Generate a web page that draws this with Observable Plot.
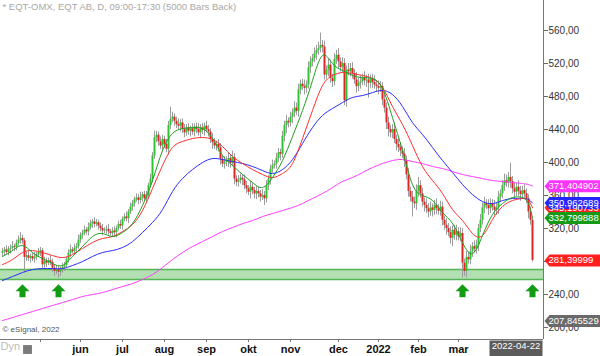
<!DOCTYPE html>
<html><head><meta charset="utf-8">
<script src="https://cdn.jsdelivr.net/npm/d3@7"></script>
<script src="https://cdn.jsdelivr.net/npm/@observablehq/plot@0.6"></script>
<style>body{margin:0;background:#fff}#chart svg{overflow:visible}</style>
</head><body><div id="chart"></div>
<script>
// ---- Daily closes (trading-day index 0..265, last = 2022-04-22) ----
const closes = [
292,294,291,295,296,298,297,302,306,308,305,285,287,284,286,283,285,288,291,293,
276,280,278,281,279,272,268,270,267,270,273,275,282,290,294,292,296,298,306,312,
314,318,316,321,326,328,325,327,323,320,317,318,319,316,314,317,315,320,325,323,
331,334,332,340,346,350,355,357,354,358,361,356,360,372,380,408,430,433,425,420,
428,422,416,445,452,455,450,446,444,448,440,436,442,438,441,437,443,440,436,442,
439,444,440,437,428,424,420,422,418,404,398,400,402,405,399,406,380,376,378,381,
379,372,368,364,370,366,362,365,362,358,360,356,372,380,392,396,398,405,412,410,
432,445,450,448,455,460,466,462,488,495,492,490,494,515,522,526,532,536,538,542,
540,506,512,518,502,498,525,530,522,515,520,475,512,510,514,508,500,492,496,498,
502,499,500,496,501,497,494,492,490,492,476,466,448,440,436,440,428,422,418,414,
410,402,385,365,358,352,350,365,372,362,352,348,344,340,345,342,348,344,341,346,
330,324,320,315,308,318,312,316,310,314,278,268,285,282,292,298,295,300,320,330,
345,350,348,344,350,346,342,345,358,362,372,378,375,382,377,368,364,370,365,361,
366,362,356,340,330,281.4
];
const firstOpen = 290;
const wickUp = [
4,3,5,3,4,6,3,4,5,7,4,3,4,5,3,4,6,3,5,4,
3,5,4,3,6,4,3,5,4,3,5,4,3,4,6,3,5,4,6,3,
4,5,3,6,4,3,5,4,3,4,5,3,4,6,3,4,5,3,4,5,
3,4,6,3,5,4,3,5,4,6,3,4,5,3,6,4,8,5,4,6,
5,4,6,5,15,6,4,5,7,4,5,6,4,5,3,6,4,5,7,4,
5,4,6,5,4,7,5,4,6,5,4,7,5,6,4,8,5,4,6,5,
4,6,5,4,7,5,4,6,5,4,7,5,6,4,5,7,4,6,5,4,
6,5,7,4,6,5,8,6,7,5,6,8,5,7,6,5,7,6,8,15,
6,7,5,8,6,5,7,6,8,5,7,6,5,8,6,7,5,9,6,7,
5,8,6,7,5,6,8,5,7,6,5,8,6,7,5,6,8,5,7,6,
5,7,6,8,5,7,6,8,10,6,7,5,8,6,7,5,6,8,5,7,
6,5,8,6,7,5,6,8,5,7,6,5,7,6,8,5,7,6,5,7,
6,8,5,7,6,5,8,6,7,5,6,8,7,6,17,6,7,5,8,6,
5,7,6,5,6,3
];
const wickDn = [
4,5,3,4,6,3,5,4,3,5,4,19,5,4,6,3,5,4,3,5,
6,4,5,3,4,5,6,4,7,5,4,5,3,4,5,3,4,6,3,4,
5,3,4,5,3,6,4,3,5,4,6,3,5,4,3,5,4,6,3,4,
5,3,4,6,3,5,4,3,5,4,6,3,5,4,3,5,4,6,5,4,
6,5,4,7,5,4,6,5,4,7,5,6,4,5,7,4,6,5,4,6,
5,7,4,6,5,8,4,6,5,7,4,6,5,8,6,4,7,5,6,4,
7,5,6,4,8,5,6,7,5,6,4,8,5,6,7,5,4,6,5,8,
5,7,10,6,5,8,6,5,7,6,5,8,6,5,7,6,5,8,6,5,
7,6,5,8,6,7,5,6,8,5,7,6,8,5,6,7,5,8,6,7,
5,6,8,18,6,7,5,6,8,5,7,6,8,9,6,7,5,8,6,7,
5,8,6,7,6,18,6,8,7,5,6,8,6,7,5,8,6,7,5,6,
7,6,8,5,7,10,6,7,5,6,18,6,8,5,6,7,5,6,8,5,
6,7,5,8,6,5,7,6,8,5,6,7,5,6,8,6,7,5,6,8,
5,7,6,8,6,2
];

// ---- Moving averages, sampled at these bar indices ----
const maIdx = [0,5,10,15,20,25,30,35,40,45,50,55,60,65,70,75,80,85,90,95,100,105,110,115,120,125,130,135,140,145,150,155,160,165,170,175,180,185,190,195,200,205,210,215,220,225,230,235,240,245,250,255,260,263,265];
const maGreen = [286.1,293.3,299.4,290.9,283.6,277.6,275.2,286.1,298.2,310.3,314.0,310.3,315.2,326.1,347.9,378.2,414.5,435.2,441.2,442.4,441.2,429.1,408.5,396.4,385.5,375.8,369.7,381.8,402.4,431.5,463.0,499.4,529.7,520.0,511.5,505.5,503.0,501.8,489.7,454.5,414.5,373.3,360.0,353.9,339.4,326.1,303.0,289.7,311.5,337.0,350.3,357.6,357.6,350.3,332.8];
const maRed = [276.4,282.4,290.9,293.3,290.9,287.3,284.8,288.5,295.8,303.0,307.9,310.3,316.4,324.9,341.8,368.5,396.4,418.2,425.5,429.1,430.3,427.9,419.4,407.3,398.8,391.5,385.5,381.8,386.7,398.8,429.1,463.0,493.3,505.5,509.1,507.9,505.5,501.8,490.9,467.9,446.1,420.6,395.2,378.2,362.4,343.0,329.7,314.0,311.5,330.9,346.7,353.9,356.4,353.9,345.19];
const maBlue = [257.0,261.8,266.7,270.3,271.5,271.5,271.5,275.2,280.0,286.1,290.9,293.3,297.0,304.2,315.2,327.3,343.0,364.8,380.6,391.5,400.0,404.8,403.6,401.2,398.8,395.2,390.3,386.7,391.5,403.6,423.0,442.4,457.0,465.5,472.7,478.8,481.2,484.8,487.3,482.4,467.9,448.5,433.9,418.2,402.4,387.9,373.3,361.2,352.7,350.3,353.9,356.4,356.4,355.2,350.96];
const maPink = [208.5,212.1,215.8,219.4,223.0,226.7,230.3,233.9,237.6,240.0,242.4,246.0,249.7,253.3,258.2,264.2,272.7,282.4,290.9,298.2,304.2,310.3,316.4,321.2,325.9,329.7,334.5,338.2,341.8,345.5,350.3,356.4,362.4,369.7,377.0,381.8,387.9,393.9,398.8,402.4,403.6,401.2,398.8,395.2,392.7,389.1,385.5,383.0,380.6,378.2,377.0,375.8,374.5,373.3,371.4];

// ---- Support band and signal arrows ----
const bandLow = 258.2, bandHigh = 270.3;
const arrowIdx = [10, 28, 230, 265];
const arrowPrice = [244, 244, 244, 244];

// ---- Axis ticks ----
const xTickIdx = [19, 39, 60, 81, 102, 123, 144, 168, 188, 208, 228, 250];
const xTickLabels = ["", "jun", "jul", "aug", "sep", "okt", "nov", "dec", "2022", "feb", "mar", ""];
const yTicks = [200, 240, 280, 320, 360, 400, 440, 480, 520, 560];
const lastDateLabel = "2022-04-22";

// ---- Right-edge value tags ----
const tagValues = [345.190733, 371.404902, 350.962689, 332.799888, 281.39999, 207.845529];
const tagTexts = ["345,190733", "371,404902", "350,962689", "332,799888", "281,39999", "207,845529"];
const tagColors = ["#ff2020", "#ff33ff", "#2424ff", "#169a16", "#ff1f1f", "#6a6a6a"];

const titleText = "* EQT-OMX, EQT AB, D, 09:00-17:30 (5000 Bars Back)";
const creditText = "\u00a9 eSignal, 2022";

// ---- build ----
const bars = closes.map((c, i) => {
  const o = i ? closes[i - 1] : firstOpen;
  return {i, o, c, h: Math.max(o, c) + wickUp[i], l: Math.min(o, c) - wickDn[i]};
});
const maSeries = (arr) => maIdx.map((x, i) => ({x, y: arr[i]}));
const tags = tagValues.map((v, i) => ({v, t: tagTexts[i], col: tagColors[i]}));
const arrows = arrowIdx.map((x, i) => ({x, y: arrowPrice[i]}));
const tickLabel = new Map(xTickIdx.map((d, i) => [d, xTickLabels[i]]));
const commaFmt = d => d.toFixed(2).replace(".", ",");

const tagSymbol = {draw(ctx) {
  ctx.moveTo(1, 0); ctx.lineTo(6, -6); ctx.lineTo(58, -6); ctx.lineTo(58, 6); ctx.lineTo(6, 6); ctx.closePath();
}};
const arrowSymbol = {draw(ctx) {
  ctx.moveTo(0, -7); ctx.lineTo(7, 0); ctx.lineTo(3, 0); ctx.lineTo(3, 6); ctx.lineTo(-3, 6); ctx.lineTo(-3, 0); ctx.lineTo(-7, 0); ctx.closePath();
}};
const boxSymbol = {draw(ctx) {
  ctx.rect(-53, -8, 53, 16);
}};

const GREEN = "#2fc42f", RED = "#e02424";

const chart = Plot.plot({
  width: 600, height: 356,
  marginLeft: 0, marginRight: 57, marginTop: 0, marginBottom: 17,
  style: {fontFamily: "'Liberation Sans', Arial, sans-serif", background: "#fff", overflow: "visible"},
  x: {domain: [-1, 270.5], axis: null},
  y: {domain: [185.5, 596.4], axis: null},
  color: {type: "identity"},
  marks: [
    Plot.rect([{lo: bandLow, hi: bandHigh}], {y1: "lo", y2: "hi", fill: "#b2e0b2"}),
    Plot.ruleY([bandLow, bandHigh], {stroke: "#55b455", strokeWidth: 1.5}),
    Plot.ruleX(bars, {x: "i", y1: "l", y2: "h", stroke: "#9c9c9c", strokeWidth: 1}),
    Plot.ruleX(bars, {x: "i", y1: "o", y2: "c", stroke: d => d.c >= d.o ? GREEN : RED, strokeWidth: 2}),
    Plot.line(maSeries(maPink), {x: "x", y: "y", stroke: "#ff3cff", strokeWidth: 1, curve: "natural"}),
    Plot.line(maSeries(maBlue), {x: "x", y: "y", stroke: "#2b2bff", strokeWidth: 1, curve: "natural"}),
    Plot.line(maSeries(maRed), {x: "x", y: "y", stroke: "#ff2e2e", strokeWidth: 1, curve: "natural"}),
    Plot.line(maSeries(maGreen), {x: "x", y: "y", stroke: "#1f9f1f", strokeWidth: 1, curve: "natural"}),
    Plot.dot(arrows, {x: "x", y: "y", symbol: arrowSymbol, fill: "#129c12", stroke: "none", r: 6}),
    Plot.ruleY([185.5], {stroke: "#777", strokeWidth: 1}),
    Plot.ruleX([270.5], {stroke: "#777", strokeWidth: 1}),
    Plot.axisX(xTickIdx, {anchor: "bottom", tickSize: 3, tickPadding: 3, tickFormat: d => tickLabel.get(d), fontWeight: "bold", fontSize: 11, fill: "#111", stroke: "#777", label: null}),
    Plot.axisY(yTicks, {anchor: "right", tickSize: 4, tickPadding: 1, tickFormat: commaFmt, fontSize: 10, fill: "#333", stroke: "#666", label: null}),
    Plot.dot(tags, {y: "v", frameAnchor: "right", symbol: tagSymbol, fill: "col", stroke: "none", r: 6}),
    Plot.text(tags, {y: "v", text: "t", frameAnchor: "right", textAnchor: "start", dx: 5, fill: "white", fontSize: 9.5}),
    Plot.dot([lastDateLabel], {frameAnchor: "bottom-right", dx: -1, dy: 9, symbol: boxSymbol, fill: "#5c5c5c", stroke: "none", r: 6}),
    Plot.text([lastDateLabel], {frameAnchor: "bottom-right", text: d => d, dx: -27.5, dy: 9, textAnchor: "middle", fill: "white", fontSize: 9.5}),
    Plot.text([titleText], {frameAnchor: "top-left", text: d => d, dx: 2, dy: 3, textAnchor: "start", lineAnchor: "top", fill: "#a8a8a8", fontSize: 9.5}),
    Plot.text([creditText], {frameAnchor: "bottom-left", text: d => d, dx: 2, dy: -8, textAnchor: "start", fill: "#555", fontSize: 8}),
    Plot.text(["Dyn"], {frameAnchor: "bottom-left", text: d => d, dx: 0, dy: 10, textAnchor: "start", fill: "#bdbdbd", fontSize: 11}),
    Plot.dot(["icon"], {frameAnchor: "bottom-left", dx: 27, dy: 10, symbol: "square", fill: "#7a7a7a", stroke: "none", r: 5})
  ]
});
document.getElementById("chart").appendChild(chart);
</script>
</body></html>
